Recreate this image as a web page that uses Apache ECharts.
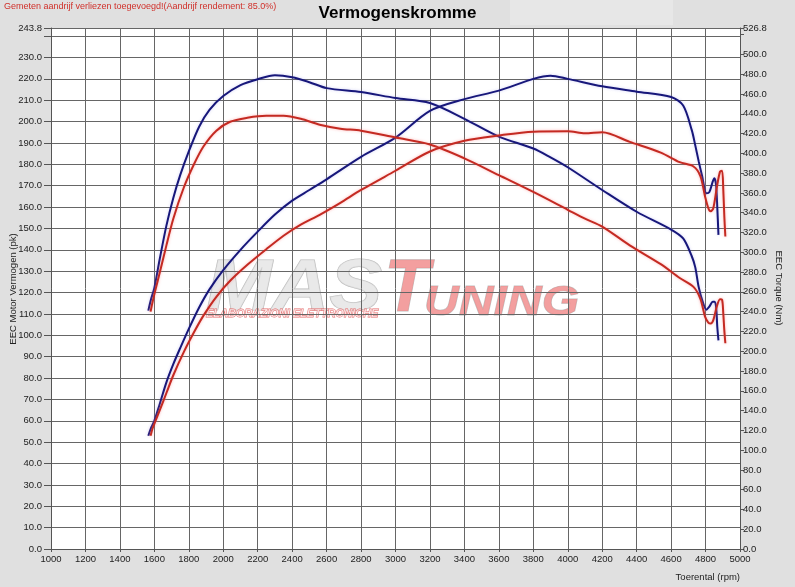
<!DOCTYPE html>
<html>
<head>
<meta charset="utf-8">
<title>Vermogenskromme</title>
<script src="https://cdn.jsdelivr.net/npm/echarts@6/dist/echarts.min.js"></script>
<style>
html, body { margin: 0; padding: 0; background: #e0e0e0; }
#chart { width: 795px; height: 587px; }
</style>
</head>
<body>
<div id="chart"></div>
<script>
// blauwe meting
var blueRpm = [1565, 1580, 1600, 1630, 1670, 1710, 1750, 1800, 1860, 1920,
    2000, 2100, 2200, 2300, 2400, 2500, 2600, 2800, 3000, 3200,
    3400, 3600, 3800, 3900, 4000, 4200, 4400, 4600, 4670, 4720,
    4740, 4760, 4780, 4805, 4822, 4842, 4851, 4861, 4868, 4875]
var blueTorque = [241, 252, 264, 292, 327, 355, 378, 402, 427, 444,
    458, 469, 475, 479, 477, 472, 466, 462, 456, 451,
    435, 417, 405, 396, 386, 363, 341, 323, 314, 296,
    285, 265, 252, 242, 245, 250, 250, 245, 225, 211]
var bluePower = [53, 56.5, 60, 67.5, 78, 86.5, 94, 103, 113, 121.5,
    130.5, 140, 148.5, 156.5, 163, 168, 173, 183.5, 192.5, 205,
    210.5, 214.5, 220, 221.5, 220, 216.5, 214, 211.5, 207.5, 196,
    189, 181.5, 174.5, 166.5, 167, 172, 173.5, 170.5, 160, 147]

// rode meting
var redRpm = [1578, 1590, 1605, 1635, 1670, 1710, 1770, 1830, 1885, 1960,
    2040, 2140, 2250, 2350, 2450, 2560, 2680, 2800, 3000, 3200,
    3400, 3600, 3800, 4000, 4100, 4200, 4360, 4540, 4650, 4730,
    4770, 4797, 4816, 4830, 4845, 4865, 4884, 4896, 4903, 4909, 4915]
var redTorque = [240, 250, 261, 282, 307, 334, 365, 389, 407, 423,
    432, 436, 438, 438, 435, 429, 425, 423, 416, 409,
    395, 378, 361, 343, 334, 326, 307, 288, 274, 265,
    253, 235, 229, 228, 231.5, 245, 252.5, 252, 238, 221, 208]
var redPower = [53, 56.5, 59.6, 65.7, 73, 81.3, 92, 101.4, 109.2, 118,
    125.5, 133, 140.3, 146.6, 151.8, 156.4, 162, 168, 177, 186,
    191, 193.5, 195.3, 195.5, 194.5, 195, 190.5, 185.5, 181, 179,
    174.5, 165, 159.5, 158, 159.5, 169, 176.6, 177, 168, 155.6, 146.2]

// assen
var powerMax = 243.8
var torqueMax = 526.8
var hiddenPowerTick = 240
var hiddenTorqueTick = 520

function pairs(xs, ys) {
    return xs.map(function (x, i) { return [x, ys[i]] })
}

var FONT = '"Liberation Sans", Arial, sans-serif'
var BLUE = '#17177a'
var RED = '#c42a22'

var chart = echarts.init(document.getElementById('chart'))

function line(name, color, yIndex, data, glow) {
    return {
        name: name,
        type: 'line',
        yAxisIndex: yIndex,
        data: data,
        showSymbol: false,
        smooth: 0.3,
        z: 5,
        lineStyle: {
            color: color,
            width: 2,
            shadowColor: glow,
            shadowBlur: 3
        }
    }
}

// as-titels als losse tekst, zodat ze precies staan
function axisTitle(text, x, y, rotation, align) {
    return {
        type: 'text', x: x, y: y, rotation: rotation, z: 10,
        style: {
            text: text, font: '9.5px ' + FONT, fill: '#222',
            textAlign: align || 'center', textVerticalAlign: 'middle'
        }
    }
}

var option = {
    backgroundColor: '#e0e0e0',
    animation: false,
    title: {
        text: 'Vermogenskromme',
        left: 'center',
        top: 0,
        textStyle: { fontFamily: FONT, fontSize: 17, fontWeight: 'bold', color: '#000' }
    },
    grid: {
        left: 51,
        right: 55,
        top: 28,
        bottom: 38,
        outerBoundsMode: 'none',
        containLabel: false,
        show: true,
        backgroundColor: '#fff',
        borderWidth: 0
    },
    xAxis: {
        type: 'value',
        min: 1000,
        max: 5000,
        interval: 200,
        axisLine: { show: true, lineStyle: { color: '#555' } },
        axisTick: { show: true, length: 3, lineStyle: { color: '#555' } },
        axisLabel: {
            fontFamily: FONT, fontSize: 9.5, color: '#222', margin: 5,
            formatter: function (v) { return String(v) }
        },
        splitLine: { show: true, lineStyle: { color: '#666', width: 1 } }
    },
    yAxis: [
        {
            type: 'value',
            min: 0,
            max: powerMax,
            interval: 10,
            axisLine: { show: true, lineStyle: { color: '#555' } },
            axisTick: { show: true, length: 7, lineStyle: { color: '#555' } },
            axisLabel: {
                fontFamily: FONT, fontSize: 9.5, color: '#222', margin: 9,
                formatter: function (v) { return v === hiddenPowerTick ? '' : v.toFixed(1) }
            },
            splitLine: { show: true, lineStyle: { color: '#666', width: 1 } }
        },
        {
            type: 'value',
            min: 0,
            max: torqueMax,
            interval: 20,
            position: 'right',
            axisLine: { show: true, lineStyle: { color: '#555' } },
            axisTick: { show: true, length: 4, lineStyle: { color: '#555' } },
            axisLabel: {
                fontFamily: FONT, fontSize: 9.5, color: '#222', margin: 3,
                formatter: function (v) { return v === hiddenTorqueTick ? '' : v.toFixed(1) }
            },
            splitLine: { show: false }
        }
    ],
    graphic: [
        {
            type: 'rect', z: 0, silent: true,
            shape: { x: 510, y: 0, width: 163, height: 25 },
            style: { fill: '#e7e7e7' }
        },
        {
            type: 'text', x: 4, y: 2, z: 10,
            style: {
                text: 'Gemeten aandrijf verliezen toegevoegd!(Aandrijf rendement: 85.0%)',
                font: '9px ' + FONT, fill: '#d0302a'
            }
        },
        axisTitle('EEC Motor Vermogen (pk)', 13, 289, Math.PI / 2),
        axisTitle('EEC Torque (Nm)', 779, 288, -Math.PI / 2),
        axisTitle('Toerental (rpm)', 740, 577, 0, 'right'),
        // watermerk
        {
            type: 'group', z: 1, silent: true,
            children: [
                {
                    type: 'text', x: 206, y: 254, scaleX: 1.1,
                    style: {
                        text: 'MAS', font: 'italic bold 72px ' + FONT,
                        fill: 'rgba(228,228,228,0.8)', stroke: 'rgba(165,165,165,0.75)', lineWidth: 1.1
                    }
                },
                {
                    type: 'text', x: 384, y: 254,
                    style: {
                        text: 'T', font: 'italic bold 74px ' + FONT,
                        fill: 'rgba(240,135,135,0.8)', stroke: 'rgba(175,175,175,0.75)', lineWidth: 1
                    }
                },
                {
                    type: 'text', x: 424, y: 282, scaleX: 1.12,
                    style: {
                        text: 'UNING', font: 'italic bold 43px ' + FONT,
                        fill: 'rgba(240,135,135,0.8)', stroke: 'rgba(175,175,175,0.75)', lineWidth: 1
                    }
                },
                {
                    type: 'text', x: 206, y: 309, scaleX: 1.1,
                    style: {
                        text: 'ELABORAZIONI ELETTRONICHE', font: 'italic bold 10px ' + FONT,
                        fill: 'rgba(255,255,255,0.6)', stroke: 'rgba(225,90,90,0.9)', lineWidth: 0.8
                    }
                }
            ]
        }
    ],
    series: [
        line('Torque blauw', BLUE, 1, pairs(blueRpm, blueTorque), 'rgba(110,110,230,0.3)'),
        line('Vermogen blauw', BLUE, 0, pairs(blueRpm, bluePower), 'rgba(110,110,230,0.3)'),
        line('Torque rood', RED, 1, pairs(redRpm, redTorque), 'rgba(255,120,120,0.55)'),
        line('Vermogen rood', RED, 0, pairs(redRpm, redPower), 'rgba(255,120,120,0.55)')
    ]
}

chart.setOption(option)
</script>
</body>
</html>
